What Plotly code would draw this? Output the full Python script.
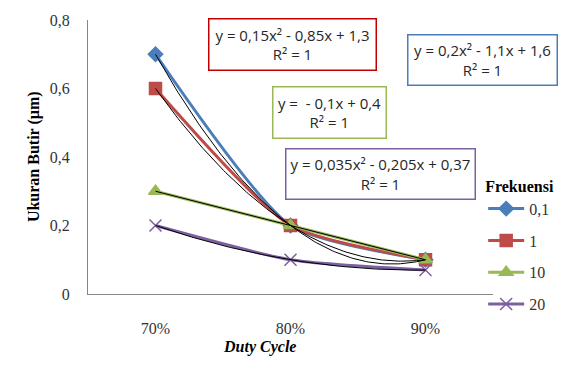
import numpy as np
import plotly.graph_objects as go

# Duty cycle categories (positions 1..3 on the x axis)
duty_cycle = ["70%", "80%", "90%"]
x_pos = [1, 2, 3]

# Grain size (µm) for each frequency
freq_labels = ["0,1", "1", "10", "20"]
size_f01 = [0.7, 0.2, 0.1]
size_f1 = [0.6, 0.2, 0.1]
size_f10 = [0.3, 0.2, 0.1]
size_f20 = [0.2, 0.1, 0.07]

y_ticks = [0, 0.2, 0.4, 0.6, 0.8]
y_ticktext = ["0", "0,2", "0,4", "0,6", "0,8"]

series = [
    (freq_labels[0], size_f01, "#4a7ebb", "diamond", 11, 2),
    (freq_labels[1], size_f1, "#be4b48", "square", 12, 2),
    (freq_labels[2], size_f10, "#98b954", "triangle-up", 12, 1),
    (freq_labels[3], size_f20, "#7d60a0", "x-thin-open", 12, 2),
]

# plot-area geometry in pixels
W, H = 568, 374
L, R, T, B = 88, 500, 18, 294

SERIF = "'Times New Roman', 'Liberation Serif', 'DejaVu Serif', serif"


def px(xp):
    return (xp - L) / (R - L)


def py(yp):
    return (B - yp) / (B - T)


fig = go.Figure()

for i, (name, vals, color, symbol, msize, _deg) in enumerate(series):
    fig.add_trace(go.Scatter(
        x=x_pos, y=vals, name=name, mode="lines+markers", legendgroup=f"g{i}",
        line=dict(color=color, width=3, shape="spline", smoothing=0.6),
        marker=dict(symbol=symbol, size=msize, color=color,
                    line=dict(color=color, width=1.5)),
    ))

# polynomial trendlines fitted to each series
xf = np.linspace(1, 3, 120)
for name, vals, color, symbol, msize, deg in series:
    coef = np.polyfit(x_pos, vals, deg)
    fig.add_trace(go.Scatter(
        x=xf, y=np.polyval(coef, xf), mode="lines", showlegend=False,
        line=dict(color="black", width=1), hoverinfo="skip",
    ))

eq_font = dict(family="Open Sans", size=15, color="#262626")
boxes = [
    ("y = 0,15x² - 0,85x + 1,3<br>R² = 1", "#c00000", 210, 16, 168, 52),
    ("y = 0,2x² - 1,1x + 1,6<br>R² = 1", "#4a7ebb", 413, 32, 150, 51),
    ("y =  - 0,1x + 0,4<br>R² = 1", "#98b954", 275, 84, 114, 52),
    ("y = 0,035x² - 0,205x + 0,37<br>R² = 1", "#7d60a0", 288, 147, 190, 51),
]
annotations = []
for text, bc, x0, y0, w, h in boxes:
    annotations.append(dict(
        text=text, xref="paper", yref="paper", x=px(x0), y=py(y0),
        xanchor="left", yanchor="top", showarrow=False, align="center",
        width=w - 6, height=h - 6, borderpad=2, bordercolor=bc, borderwidth=1.5,
        bgcolor="white", font=eq_font,
    ))

annotations.append(dict(
    text="<b>Ukuran Butir (µm)</b>", xref="paper", yref="paper",
    x=px(22), y=py(156), textangle=-90, showarrow=False,
    font=dict(family=SERIF, size=16, color="black"),
))
annotations.append(dict(
    text="<b><i>Duty Cycle</i></b>", xref="paper", yref="paper",
    x=px(262), y=py(358), showarrow=False,
    font=dict(family=SERIF, size=16, color="black"),
))

fig.update_layout(
    width=W, height=H,
    margin=dict(l=L, r=W - R, t=T, b=H - B),
    paper_bgcolor="white", plot_bgcolor="white",
    font=dict(family=SERIF, size=16, color="#333333"),
    showlegend=True,
    legend=dict(
        title=dict(text="<b>Frekuensi</b>", font=dict(family=SERIF, size=16, color="black")),
        x=px(490), y=py(170), xanchor="left", yanchor="top",
        bgcolor="rgba(0,0,0,0)", font=dict(family=SERIF, size=16, color="#333333"),
        itemwidth=36, tracegroupgap=8,
    ),
    xaxis=dict(
        range=[0.5, 3.5], tickvals=x_pos, ticktext=duty_cycle,
        showline=True, linecolor="#868686", linewidth=1,
        showgrid=False, zeroline=False, ticks="", ticklabelstandoff=20,
        tickfont=dict(family=SERIF, size=16, color="#333333"),
    ),
    yaxis=dict(
        range=[0, 0.8], tickvals=y_ticks, ticktext=y_ticktext,
        showline=True, linecolor="#868686", linewidth=1,
        showgrid=False, zeroline=False, ticks="", ticklabelstandoff=14,
        tickfont=dict(family=SERIF, size=16, color="#333333"),
    ),
    annotations=annotations,
)

fig.write_html("out.html")
